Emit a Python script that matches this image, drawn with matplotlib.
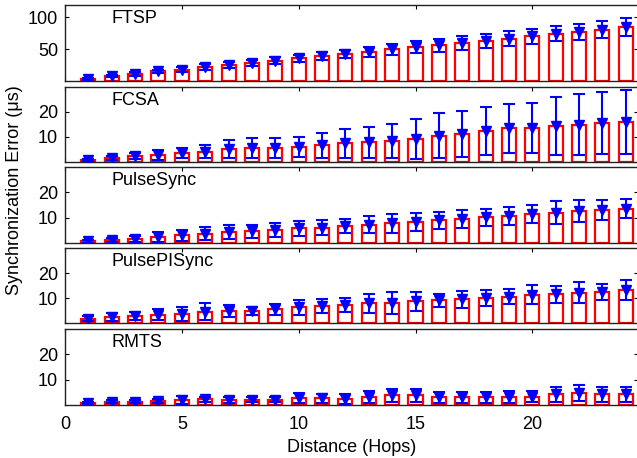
import numpy as np
import matplotlib
matplotlib.use("Agg")
import matplotlib.pyplot as plt

plt.rcParams['font.family'] = ['Liberation Sans', 'DejaVu Sans']

hops = np.arange(1, 25)

ftsp_mean = [3.6, 7.8, 11, 15, 18, 22, 25, 28.6, 32, 35.4, 39, 42.7,
             45.8, 49.5, 53, 56, 59.8, 63, 66.6, 70.3, 74, 77, 80.7, 84.4]
ftsp_err = [1.5, 2, 2.5, 3, 3.5, 4, 4.5, 5, 5.5, 5.8, 6, 6.3,
            7.5, 9, 9.5, 10, 11, 11, 11.5, 11.5, 12, 13, 14, 14]

fcsa_mean = [0.7, 1.4, 2.1, 2.8, 3.4, 4.0, 5.0, 5.6, 5.6, 6.0, 6.6, 7.3,
             7.8, 8.2, 9.2, 10.4, 11.2, 12.4, 13.3, 13.5, 14.3, 14.8, 15.6, 16.0]
fcsa_err = [0.5, 0.8, 1.2, 2.0, 2.0, 2.7, 3.5, 4.0, 4.0, 4.0, 5.0, 5.7,
            6.2, 6.9, 8.0, 9.0, 9.2, 9.6, 9.7, 10.1, 11.6, 12.2, 12.4, 12.8]

psync_mean = [0.6, 1.2, 1.7, 2.3, 3.0, 3.6, 4.3, 4.6, 5.1, 5.8, 6.1, 6.6,
              7.3, 7.7, 8.3, 8.9, 9.5, 10.1, 10.7, 11.4, 12.0, 12.6, 13.0, 13.5]
psync_err = [0.5, 0.8, 1.2, 1.9, 2.3, 2.6, 2.7, 2.7, 2.6, 3.0, 2.9, 2.7,
             3.2, 3.9, 3.7, 3.2, 3.4, 3.3, 3.4, 3.7, 4.4, 4.2, 3.8, 3.8]

ppi_mean = [1.9, 2.5, 2.9, 3.5, 3.8, 4.6, 5.0, 4.8, 5.5, 6.3, 7.0, 7.4,
            7.9, 8.2, 8.7, 9.2, 9.5, 10.1, 10.6, 11.4, 11.5, 12.2, 12.5, 13.2]
ppi_err = [1.0, 1.6, 1.6, 2.1, 2.8, 3.3, 2.3, 1.5, 2.2, 3.0, 2.7, 2.7,
           3.7, 4.4, 3.9, 2.6, 3.4, 3.2, 3.0, 3.9, 3.3, 4.2, 3.2, 4.1]

rmts_mean = [0.7, 1.2, 1.2, 1.5, 2.0, 2.3, 2.0, 2.0, 2.0, 2.9, 2.6, 2.5,
             3.3, 3.8, 3.8, 3.0, 3.0, 3.0, 3.3, 3.3, 4.3, 4.6, 4.3, 4.3]
rmts_err = [0.4, 0.6, 0.6, 0.8, 1.5, 1.0, 1.2, 1.0, 1.0, 2.0, 1.7, 2.0,
            2.4, 2.6, 2.5, 2.3, 2.3, 2.3, 2.4, 2.3, 3.0, 3.2, 3.0, 3.0]

names = ['FTSP', 'FCSA', 'PulseSync', 'PulsePISync', 'RMTS']
means = [ftsp_mean, fcsa_mean, psync_mean, ppi_mean, rmts_mean]
errs = [ftsp_err, fcsa_err, psync_err, ppi_err, rmts_err]
ylims = [(0, 120), (0, 30), (0, 30), (0, 30), (0, 30)]
yticks = [[50, 100], [10, 20], [10, 20], [10, 20], [10, 20]]

W, H = 637, 458
fig = plt.figure(figsize=(W / 100, H / 100), dpi=100)

# panel extents in pixels (top, bottom)
panels = [(4.5, 81), (86.7, 161.7), (167, 243), (248, 323.3), (329, 405)]
left_px, right_px = 65, 637.5
fs = 13

axes = []
for k, (top, bot) in enumerate(panels):
    ax = fig.add_axes([left_px / W, 1 - bot / H, (right_px - left_px) / W, (bot - top) / H])
    axes.append(ax)
    ax.bar(hops, means[k], width=0.6, facecolor='white', edgecolor='red',
           linewidth=1.6, zorder=2)
    ax.errorbar(hops, means[k], yerr=errs[k], fmt='v', color='blue',
                markersize=7.5, elinewidth=1.5, capsize=4, capthick=1.5, zorder=3)
    ax.set_xlim(0, 24.5)
    ax.set_ylim(*ylims[k])
    ax.set_yticks(yticks[k])
    ax.set_xticks([0, 5, 10, 15, 20])
    ax.tick_params(direction='in', length=3, width=0.8, top=True, right=True,
                   labelsize=fs)
    ax.tick_params(axis='y', pad=5)
    ax.tick_params(axis='x', pad=8)
    if k < 4:
        ax.tick_params(labelbottom=False)
    for sp in ax.spines.values():
        sp.set_linewidth(1.0)
        sp.set_color('#222222')
    ax.text(0.082, 0.82, names[k], transform=ax.transAxes, fontsize=fs,
            va='center', ha='left')

fig.text(15 / W, 1 - 190 / H, 'Synchronization Error (\u03bcs)', rotation=90,
         ha='center', va='center', fontsize=fs)
fig.text(352 / W, 1 - 448 / H, 'Distance (Hops)', ha='center', va='center',
         fontsize=fs)

fig.savefig('out.png', dpi=100)
